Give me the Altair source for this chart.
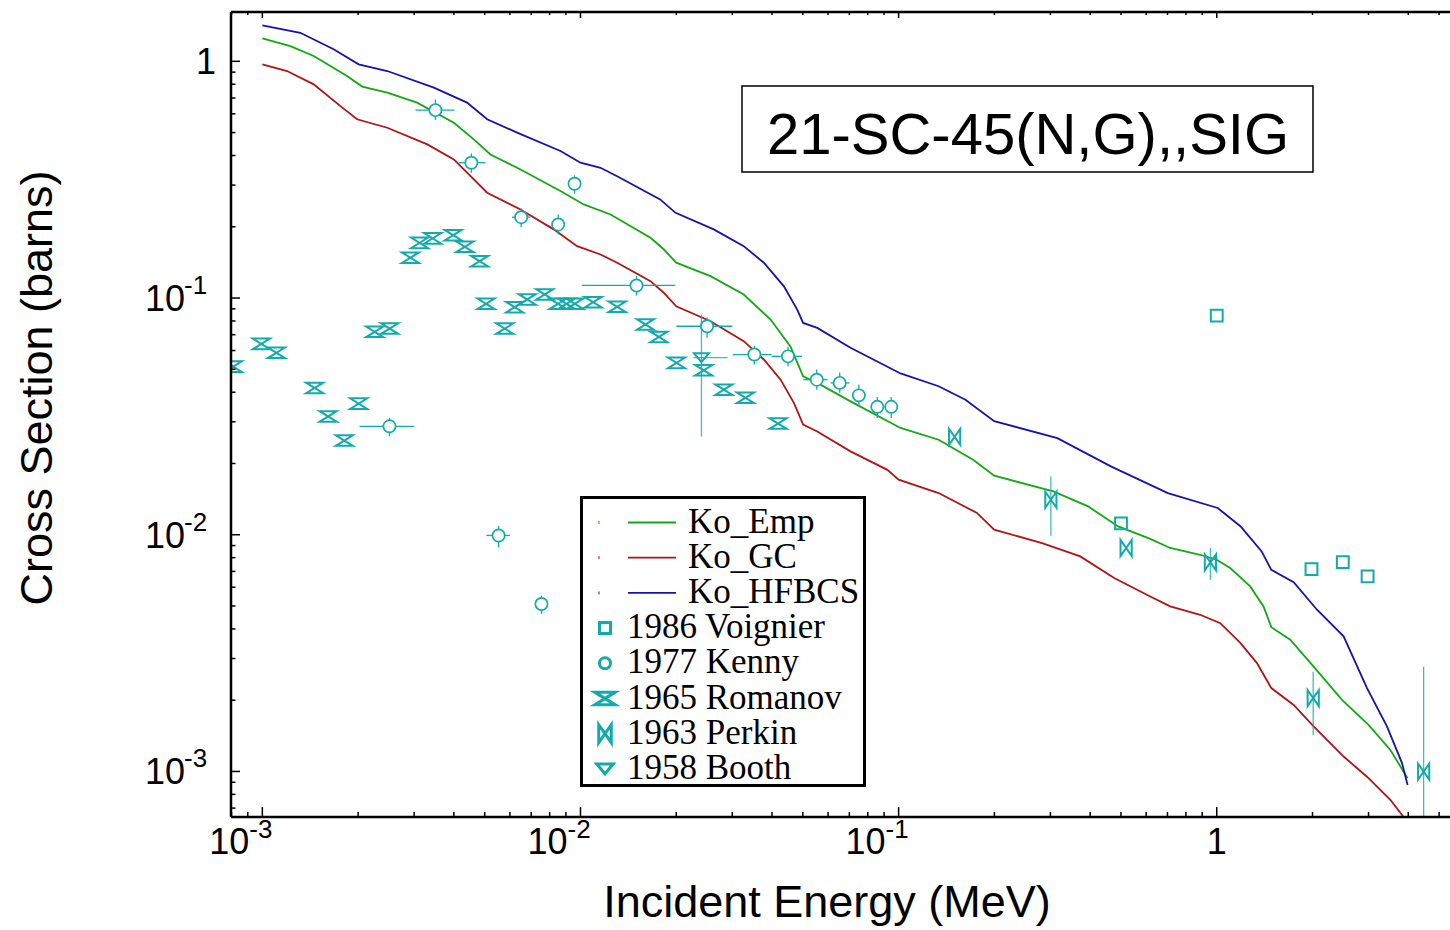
import altair as alt
import pandas as pd
import numpy as np

# ---------------- plot geometry (plot area) ----------------
W, H = 1219, 805
X_DOMAIN = [0.000797, 5.41]
Y_DOMAIN = [0.000642, 1.6156]

TEAL = "#12aaaa"
FONT = "Liberation Sans"

# ---------------- model curves ----------------
emp_E = [0.001, 0.001225, 0.00145, 0.001846, 0.00206, 0.00247, 0.003065, 0.004, 0.00462, 0.00521,
         0.00648, 0.00865, 0.01024, 0.01243, 0.0166, 0.0183, 0.0200, 0.02563, 0.0326, 0.03959,
         0.0457, 0.0501, 0.0555, 0.0706, 0.1014, 0.1336, 0.1715, 0.1997, 0.3066, 0.394,
         0.49, 0.618, 0.714, 0.887, 1.0, 1.102, 1.274, 1.403, 1.484, 1.702,
         2.016, 2.476, 3.0, 3.513, 3.98]
emp_S = [1.251, 1.16, 1.053, 0.867, 0.782, 0.737, 0.669, 0.55, 0.468, 0.404,
         0.349, 0.283, 0.2485, 0.2254, 0.1797, 0.1603, 0.141, 0.1237, 0.1035, 0.0811,
         0.0625, 0.0467, 0.0438, 0.0366, 0.02825, 0.0252, 0.02075, 0.01776, 0.01525, 0.01318,
         0.01084, 0.0096, 0.00879, 0.00823, 0.00784, 0.00723, 0.00605, 0.00498, 0.00407, 0.0036,
         0.00277, 0.002006, 0.001573, 0.001233, 0.000936]

gc_E = [0.001, 0.001196, 0.00145, 0.00176, 0.001985, 0.00247, 0.0033, 0.004, 0.00509, 0.00648,
        0.00824, 0.00976, 0.01156, 0.01304, 0.0166, 0.0183, 0.02, 0.02563, 0.0326, 0.0377,
        0.04256, 0.0469, 0.0501, 0.0555, 0.0706, 0.0922, 0.1, 0.1336, 0.1763, 0.1997,
        0.2825, 0.3724, 0.476, 0.618, 0.714, 0.887, 1.026, 1.186, 1.338, 1.484,
        1.745, 2.016, 2.505, 2.967, 3.513, 3.823, 4.0]
gc_S = [0.971, 0.91, 0.799, 0.647, 0.569, 0.524, 0.4457, 0.385, 0.2786, 0.2366,
        0.195, 0.1656, 0.1527, 0.141, 0.1178, 0.105, 0.0923, 0.0798, 0.0657, 0.055,
        0.0452, 0.036, 0.0292, 0.0273, 0.0225, 0.0188, 0.0171, 0.015, 0.01236, 0.0105,
        0.00922, 0.0081, 0.00656, 0.00548, 0.00498, 0.00459, 0.00423, 0.00349, 0.00287, 0.00225,
        0.00191, 0.00155, 0.001156, 0.00095, 0.000759, 0.000655, 0.00059]

hf_E = [0.001, 0.001316, 0.001675, 0.002008, 0.00247, 0.00346, 0.0044, 0.00509, 0.00632, 0.00865,
        0.01, 0.01156, 0.01304, 0.0178, 0.0199, 0.02624, 0.0326, 0.0377, 0.0436, 0.048,
        0.0501, 0.0555, 0.0706, 0.1014, 0.1336, 0.1622, 0.1997, 0.3155, 0.4647, 0.702,
        1.007, 1.189, 1.384, 1.484, 1.745, 2.066, 2.505, 2.967, 3.428, 3.823, 3.98]
hf_S = [1.42, 1.32, 1.124, 0.971, 0.91, 0.774, 0.669, 0.569, 0.4995, 0.418,
        0.373, 0.355, 0.327, 0.261, 0.229, 0.195, 0.1656, 0.141, 0.112, 0.0894,
        0.0785, 0.0748, 0.0616, 0.048, 0.0424, 0.0372, 0.0302, 0.0256, 0.01945, 0.015,
        0.01297, 0.01084, 0.0085, 0.00711, 0.0063, 0.00482, 0.00372, 0.00225, 0.00155, 0.001084, 0.000877]

model_names = ["Ko_Emp", "Ko_GC", "Ko_HFBCS"]
model_colors = ["#14a814", "#b01414", "#1414aa"]

# ---------------- experimental data ----------------
voig_E = [0.5, 1.0, 1.985, 2.49, 2.98]
voig_S = [0.01116, 0.0843, 0.00716, 0.00766, 0.00667]

kenny_E = [0.00251, 0.0035, 0.00454, 0.00553, 0.00651, 0.00754, 0.00851, 0.00958, 0.015, 0.025,
           0.0352, 0.0449, 0.0553, 0.0653, 0.075, 0.0857, 0.0948]
kenny_S = [0.0287, 0.622, 0.373, 0.00993, 0.2196, 0.0051, 0.2046, 0.304, 0.113, 0.076,
           0.0577, 0.0567, 0.0452, 0.0438, 0.0388, 0.0347, 0.0347]
kenny_Elo = [0.00202, 0.00303, 0.00414, 0.00506, 0.00609, 0.0072, 0.0082, 0.0093, 0.0101, 0.0200,
             0.0301, 0.0399, 0.0502, 0.0611, 0.0715, 0.082, 0.0905]
kenny_Ehi = [0.0030, 0.00402, 0.00503, 0.0060, 0.00696, 0.0079, 0.0088, 0.0099, 0.01985, 0.0300,
             0.0399, 0.0497, 0.0598, 0.0701, 0.0785, 0.0895, 0.099]
kenny_Slo = [0.0261, 0.565, 0.338, 0.00884, 0.199, 0.00463, 0.1856, 0.276, 0.1025, 0.068,
             0.0523, 0.0515, 0.041, 0.0398, 0.0349, 0.0311, 0.0311]
kenny_Shi = [0.0311, 0.69, 0.408, 0.0109, 0.239, 0.00552, 0.2254, 0.33, 0.124, 0.0827,
             0.0628, 0.0622, 0.0499, 0.0484, 0.0431, 0.0382, 0.0382]

rom_E = [0.00081, 0.000993, 0.001107, 0.00146, 0.00161, 0.00181, 0.002008, 0.002255, 0.002513, 0.00292,
         0.00312, 0.00343, 0.00398, 0.00433, 0.00482, 0.00505, 0.00578, 0.00621, 0.0068, 0.00772,
         0.0085, 0.00904, 0.0096, 0.01096, 0.01304, 0.016, 0.01764, 0.02004, 0.0244, 0.02823,
         0.033, 0.0418]
rom_S = [0.0513, 0.064, 0.0587, 0.0417, 0.0316, 0.025, 0.0358, 0.072, 0.0743, 0.148,
         0.171, 0.1786, 0.1843, 0.1646, 0.1431, 0.0945, 0.0743, 0.0915, 0.0986, 0.1035,
         0.0945, 0.0945, 0.0945, 0.096, 0.0918, 0.0773, 0.0685, 0.0532, 0.0495, 0.041,
         0.0379, 0.0295]

perk_E = [0.15, 0.301, 0.519, 0.955, 2.01, 4.47]
perk_S = [0.0259, 0.01406, 0.00879, 0.00764, 0.00204, 0.000998]
perk_Slo = [np.nan, 0.0099, np.nan, 0.00645, 0.001426, 0.0003]
perk_Shi = [np.nan, 0.01764, np.nan, 0.00879, 0.00264, 0.00277]

booth_E = [0.024]
booth_S = [0.056]
booth_Elo = [0.02265]
booth_Ehi = [0.029]
booth_Slo = [0.026]
booth_Shi = [0.0852]

# ---------------- axis ticks ----------------
x_major = [0.001, 0.01, 0.1, 1.0]
x_exp = ["-3", "-2", "-1"]
y_major = [1.0, 0.1, 0.01, 0.001]
y_exp = ["-1", "-2", "-3"]
x_minor = [m * 10.0 ** k for k in (-4, -3, -2, -1, 0) for m in range(2, 10)
           if X_DOMAIN[0] <= m * 10.0 ** k <= X_DOMAIN[1]]
y_minor = [m * 10.0 ** k for k in (-4, -3, -2, -1, 0) for m in range(2, 10)
           if Y_DOMAIN[0] <= m * 10.0 ** k <= Y_DOMAIN[1]]
x_title = "Incident Energy (MeV)"
y_title = "Cross Section (barns)"

# ---------------- build tables ----------------
models = pd.concat([
    pd.DataFrame({"E": emp_E, "S": emp_S, "series": "Ko_Emp"}),
    pd.DataFrame({"E": gc_E, "S": gc_S, "series": "Ko_GC"}),
    pd.DataFrame({"E": hf_E, "S": hf_S, "series": "Ko_HFBCS"}),
])
kenny = pd.DataFrame({"E": kenny_E, "S": kenny_S, "elo": kenny_Elo, "ehi": kenny_Ehi,
                      "slo": kenny_Slo, "shi": kenny_Shi})
voig = pd.DataFrame({"E": voig_E, "S": voig_S})
rom = pd.DataFrame({"E": rom_E, "S": rom_S})
perk = pd.DataFrame({"E": perk_E, "S": perk_S, "slo": perk_Slo, "shi": perk_Shi})
perk_err = perk.dropna()
booth = pd.DataFrame({"E": booth_E, "S": booth_S, "elo": booth_Elo, "ehi": booth_Ehi,
                      "slo": booth_Slo, "shi": booth_Shi})

xs = alt.Scale(type="log", domain=X_DOMAIN, nice=False)
ys = alt.Scale(type="log", domain=Y_DOMAIN, nice=False)


def X(f):
    return alt.X(f, type="quantitative", scale=xs, axis=None)


def Y(f):
    return alt.Y(f, type="quantitative", scale=ys, axis=None)


lines = alt.Chart(models).mark_line(strokeWidth=1.8, clip=True).encode(
    x=X("E"), y=Y("S"),
    color=alt.Color("series:N", scale=alt.Scale(domain=model_names, range=model_colors), legend=None),
)

# error bars
k_v = alt.Chart(kenny).mark_rule(color=TEAL, strokeWidth=1.3, clip=True).encode(
    x=X("E"), y=Y("slo"), y2="shi")
k_h = alt.Chart(kenny).mark_rule(color=TEAL, strokeWidth=1.3, clip=True).encode(
    x=X("elo"), x2="ehi", y=Y("S"))
p_v = alt.Chart(perk_err).mark_rule(color=TEAL, strokeWidth=1.3, opacity=0.8, clip=True).encode(
    x=X("E"), y=Y("slo"), y2="shi")
b_v = alt.Chart(booth).mark_rule(color=TEAL, strokeWidth=1.3, opacity=0.8, clip=True).encode(
    x=X("E"), y=Y("slo"), y2="shi")
b_h = alt.Chart(booth).mark_rule(color=TEAL, strokeWidth=1.3, opacity=0.8, clip=True).encode(
    x=X("elo"), x2="ehi", y=Y("S"))

HOURGLASS = "M-1,-0.62H1L-1,0.62H1Z"
BOWTIE = "M-0.7,-1V1L0.7,-1V1Z"
TRI_DOWN = "M-1,-0.6H1L0,0.6Z"

k_pts = alt.Chart(kenny).mark_point(shape="circle", size=150, filled=True, fill="white",
                                    stroke=TEAL, strokeWidth=1.7, opacity=1, clip=True).encode(
    x=X("E"), y=Y("S"))
v_pts = alt.Chart(voig).mark_point(shape="square", size=140, filled=False, color=TEAL,
                                   strokeWidth=2, opacity=1, clip=True).encode(x=X("E"), y=Y("S"))
r_pts = alt.Chart(rom).mark_point(shape=HOURGLASS, size=290, filled=False, color=TEAL,
                                  strokeWidth=2, opacity=1, clip=True).encode(x=X("E"), y=Y("S"))
p_pts = alt.Chart(perk).mark_point(shape=BOWTIE, size=256, filled=False, color=TEAL,
                                   strokeWidth=2, opacity=1, clip=True).encode(x=X("E"), y=Y("S"))
b_pts = alt.Chart(booth).mark_point(shape=TRI_DOWN, size=225, filled=False, color=TEAL,
                                    strokeWidth=2, opacity=1, clip=True).encode(x=X("E"), y=Y("S"))

# ---------------- frame and ticks (inward) ----------------
one = pd.DataFrame({"a": [0]})
frame = [
    alt.Chart(one).mark_rule(color="black", strokeWidth=2.5).encode(
        x=alt.value(0), x2=alt.value(W), y=alt.value(0)),
    alt.Chart(one).mark_rule(color="black", strokeWidth=2.5).encode(
        x=alt.value(0), x2=alt.value(W), y=alt.value(H)),
    alt.Chart(one).mark_rule(color="black", strokeWidth=2.5).encode(
        x=alt.value(0), y=alt.value(0), y2=alt.value(H)),
]
xmaj = pd.DataFrame({"v": x_major})
xmin = pd.DataFrame({"v": x_minor})
ymaj = pd.DataFrame({"v": y_major})
ymin = pd.DataFrame({"v": y_minor})
tick_layers = []
for df, ln in ((xmaj, 10), (xmin, 5)):
    tick_layers.append(alt.Chart(df).mark_rule(color="black", strokeWidth=1.5).encode(
        x=X("v"), y=alt.value(H), y2=alt.value(H - ln)))
    tick_layers.append(alt.Chart(df).mark_rule(color="black", strokeWidth=1.5).encode(
        x=X("v"), y=alt.value(0), y2=alt.value(ln * 0.6)))
for df, ln in ((ymaj, 9), (ymin, 4.5)):
    tick_layers.append(alt.Chart(df).mark_rule(color="black", strokeWidth=1.5).encode(
        y=Y("v"), x=alt.value(0), x2=alt.value(ln)))

# ---------------- tick labels and axis titles ----------------
xlab = pd.DataFrame({"v": x_major[:3], "base": ["10"] * 3, "exp": x_exp})
ylab = pd.DataFrame({"v": y_major[1:], "base": ["10"] * 3, "exp": y_exp})
x_one = pd.DataFrame({"v": [x_major[3]], "t": ["1"]})
y_one = pd.DataFrame({"v": [y_major[0]], "t": ["1"]})

label_layers = [
    alt.Chart(xlab).mark_text(align="right", baseline="alphabetic", dx=-13, fontSize=36,
                              font=FONT, color="black").encode(
        x=X("v"), y=alt.value(842), text="base:N"),
    alt.Chart(xlab).mark_text(align="left", baseline="alphabetic", dx=-13, fontSize=26,
                              font=FONT, color="black").encode(
        x=X("v"), y=alt.value(826), text="exp:N"),
    alt.Chart(x_one).mark_text(align="center", baseline="alphabetic", fontSize=36,
                               font=FONT, color="black").encode(
        x=X("v"), y=alt.value(842), text="t:N"),
    alt.Chart(ylab).mark_text(align="right", baseline="alphabetic", dy=13, fontSize=36,
                              font=FONT, color="black").encode(
        y=Y("v"), x=alt.value(-46), text="base:N"),
    alt.Chart(ylab).mark_text(align="left", baseline="alphabetic", dy=-4, fontSize=26,
                              font=FONT, color="black").encode(
        y=Y("v"), x=alt.value(-47), text="exp:N"),
    alt.Chart(y_one).mark_text(align="right", baseline="alphabetic", dy=13, fontSize=36,
                               font=FONT, color="black").encode(
        y=Y("v"), x=alt.value(-15), text="t:N"),
    alt.Chart(one).mark_text(text=x_title, fontSize=45, font=FONT, align="center",
                             baseline="alphabetic", color="black").encode(
        x=alt.value(596), y=alt.value(905)),
    alt.Chart(one).mark_text(text=y_title, fontSize=45, font=FONT, align="center",
                             baseline="alphabetic", angle=270, color="black").encode(
        x=alt.value(-179), y=alt.value(376)),
]

# ---------------- title box ----------------
title_box = alt.Chart(one).mark_rect(fill="white", stroke="black", strokeWidth=1.5).encode(
    x=alt.value(511), x2=alt.value(1082), y=alt.value(74), y2=alt.value(160))
title_txt = alt.Chart(one).mark_text(text="21-SC-45(N,G),,SIG", fontSize=58, font=FONT,
                                     align="center", baseline="alphabetic", color="black").encode(
    x=alt.value(797), y=alt.value(142))

# ---------------- legend ----------------
leg_layers = [alt.Chart(one).mark_rect(fill="white", stroke="black", strokeWidth=3).encode(
    x=alt.value(350.5), x2=alt.value(633.5), y=alt.value(485.5), y2=alt.value(773.5))]
SERIF = "Liberation Serif"
row0, step = 510.5, 35.2
for i, (name, col) in enumerate(zip(model_names, model_colors)):
    ry = row0 + step * i
    leg_layers.append(alt.Chart(one).mark_rule(color=col, strokeWidth=1).encode(
        x=alt.value(368), y=alt.value(ry - 1.5), y2=alt.value(ry + 1.5)))
    leg_layers.append(alt.Chart(one).mark_rule(color=col, strokeWidth=1.8).encode(
        x=alt.value(397), x2=alt.value(445), y=alt.value(ry)))
    leg_layers.append(alt.Chart(one).mark_text(text=name, font=SERIF, fontSize=35, align="left",
                                               baseline="alphabetic", color="black").encode(
        x=alt.value(457), y=alt.value(ry + 10)))
exp_entries = [("1986 Voignier", "square", 121),
               ("1977 Kenny", "circle", 121),
               ("1965 Romanov", HOURGLASS, 420),
               ("1963 Perkin", BOWTIE, 320),
               ("1958 Booth", TRI_DOWN, 270)]
for j, (name, shp, sz) in enumerate(exp_entries):
    ry = row0 + step * (j + 3)
    leg_layers.append(alt.Chart(one).mark_point(shape=shp, size=sz, filled=False, color=TEAL,
                                                strokeWidth=3, opacity=1).encode(
        x=alt.value(374), y=alt.value(ry)))
    leg_layers.append(alt.Chart(one).mark_text(text=name, font=SERIF, fontSize=35, align="left",
                                               baseline="alphabetic", color="black").encode(
        x=alt.value(396), y=alt.value(ry + 10)))

chart = alt.layer(
    lines, k_v, k_h, p_v, b_v, b_h, k_pts, v_pts, r_pts, p_pts, b_pts,
    *frame, *tick_layers, *label_layers, title_box, title_txt, *leg_layers
).properties(
    width=W, height=H,
    autosize=alt.AutoSizeParams(type="none"),
    padding={"left": 231, "top": 12, "right": 0, "bottom": 113},
    background="white",
).configure_view(stroke=None)

chart.save("out.html", embed_options={"renderer": "svg", "actions": False})
